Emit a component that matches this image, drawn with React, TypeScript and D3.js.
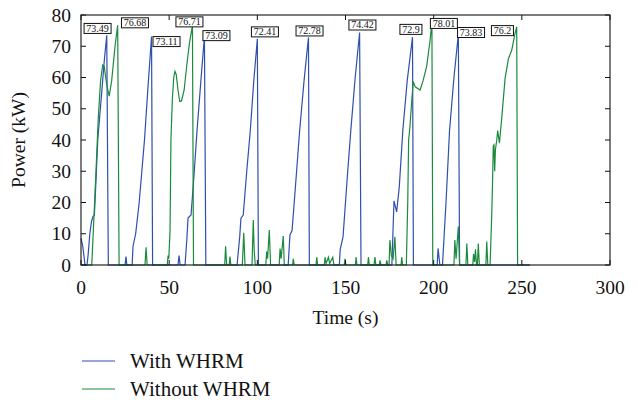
import React from 'react';
import * as d3 from 'd3';

// Power traces, [time (s), power (kW)]
const withWhrm: [number, number][] = [
  [0, 8.5], [1, 6], [2.3, 0], [3.4, 0], [4, 3], [5, 10], [6, 14], [6.8, 15.5], [7.6, 16], [8.5, 27],
  [9.5, 40], [12, 57], [13.3, 66], [14.6, 73.49], [15.5, 0],
  [25, 0], [25.5, 2.7], [26, 0], [29, 0], [29.5, 6], [31, 10], [33, 20], [34.5, 30], [36, 40],
  [38, 57], [40, 73.11], [40.6, 0],
  [55, 0], [55.6, 3], [56.2, 0], [59, 0], [60, 8], [60.7, 15], [62.4, 16], [64, 28], [65.8, 43],
  [68, 59], [70, 73.09], [70.8, 0],
  [88.5, 0], [90, 9], [90.7, 15], [92, 16], [94, 30], [96, 43], [98, 59], [100, 72.41], [100.6, 0],
  [117.5, 0], [118.5, 9.6], [119.7, 11], [122, 28], [124, 43], [126.5, 59], [129, 72.78], [129.5, 0],
  [146.5, 0], [147, 5], [148.6, 9], [151, 28], [153, 43], [155.5, 60], [158, 74.42], [158.8, 0],
  [176.3, 0], [177, 12], [177.5, 20.5], [179, 17], [180.5, 25], [182.5, 43], [185, 59], [188, 72.9], [188.5, 0],
  [202, 0], [202.5, 5.3], [203.5, 0], [205, 0], [207, 20], [209, 43], [211.5, 60], [214, 73.83], [214.7, 0],
  [254.5, 0],
];

const withoutWhrm: [number, number][] = [
  [0, 0], [6.1, 0], [7, 11], [8.5, 30], [9.8, 47], [11.1, 59], [12.3, 64], [13.2, 63.5], [14.5, 58],
  [16, 54], [17.4, 59], [19.3, 70], [20.8, 76.68], [21.6, 0],
  [36.3, 0], [36.9, 5.7], [37.5, 0], [48.9, 0], [49.4, 3], [49.8, 2], [50.5, 11], [51, 40], [51.8, 53],
  [52.6, 60], [53.3, 62], [54, 61], [55, 56], [56, 52.3], [57, 52.5], [58.5, 56], [60, 64], [61.5, 71],
  [63.2, 76.71], [63.8, 0],
  [81.5, 0], [82, 6], [82.6, 0], [84, 0], [84.5, 2.7], [85, 0], [91.5, 0], [92.3, 10.3], [93, 0],
  [97, 0], [97.7, 14.4], [98.2, 5], [98.8, 0], [104.8, 0], [105.3, 4.3], [105.8, 2], [106.8, 11.2],
  [107.5, 0], [112.4, 0], [112.9, 5.3], [113.5, 2], [114.7, 9.3], [115.3, 0], [120, 0], [120.4, 2],
  [120.9, 0], [133.3, 0], [133.7, 2.5], [134.2, 0], [138, 0], [138.4, 2.5], [139, 0.5], [140.3, 2.5],
  [141, 0.5], [142.8, 2.5], [143.4, 0], [149.3, 0], [149.7, 2], [150.2, 0], [155.6, 0], [156, 2.5],
  [156.5, 0], [162.6, 0], [163, 2.5], [163.5, 0], [166.2, 0], [166.7, 2.5], [167.2, 0], [169.2, 0],
  [169.6, 1.5], [170.1, 0], [173, 0], [173.4, 1.5], [174, 0], [174.7, 0], [175.2, 8], [176, 3], [177, 2],
  [178, 9], [178.7, 0], [181.5, 0], [181.9, 2.5], [182.4, 0],
  [184.5, 0], [185.3, 20], [185.8, 40], [186.5, 44], [187.5, 52], [188.4, 58.7], [189.5, 57], [192.3, 56],
  [194, 59], [196, 63.5], [198, 72], [199, 78.01], [199.5, 0],
  [211.5, 0], [212, 8], [212.7, 2], [214, 12.3], [214.7, 0], [218.3, 0], [218.8, 6.9], [219.4, 0],
  [222.2, 0], [222.6, 3.5], [223.2, 1], [223.7, 5], [224.3, 0], [224.8, 0], [225.3, 6.9], [225.9, 0],
  [229.6, 0], [230.1, 7.5], [230.7, 0],
  [232, 0], [232.9, 15.5], [233.5, 29], [233.8, 38], [234.2, 38.4], [234.6, 30], [235, 36.8], [235.8, 40],
  [236.3, 43], [237.3, 39], [238.6, 47], [240.5, 59.7], [242.4, 66], [244.3, 68.8], [246.1, 74],
  [247.1, 76.2], [247.6, 0], [254.6, 0],
];

// peak annotations: text and the box centre in data units
const peakLabels: { text: string; t: number; v: number }[] = [
  { text: '73.49', t: 9.4, v: 75.7 },
  { text: '76.68', t: 30.6, v: 77.5 },
  { text: '73.11', t: 48.5, v: 71.5 },
  { text: '76.71', t: 61.5, v: 77.8 },
  { text: '73.09', t: 76.8, v: 73.4 },
  { text: '72.41', t: 104.3, v: 74.6 },
  { text: '72.78', t: 129.6, v: 74.9 },
  { text: '74.42', t: 159.6, v: 76.8 },
  { text: '72.9', t: 187.1, v: 75.4 },
  { text: '78.01', t: 205.8, v: 77.3 },
  { text: '73.83', t: 221.2, v: 74.4 },
  { text: '76.2', t: 239, v: 75 },
];

const xTicks = [0, 50, 100, 150, 200, 250, 300];
const yTicks = [0, 10, 20, 30, 40, 50, 60, 70, 80];

const seriesNames = ['With WHRM', 'Without WHRM'];
const seriesColors = ['#2f4fac', '#1b8a3e'];

const W = 638;
const H = 400;
const margin = { top: 15, right: 28, bottom: 135, left: 81 };
const font = '"Liberation Serif", "Times New Roman", serif';

export default function App() {
  const x = d3.scaleLinear().domain([0, 300]).range([margin.left, W - margin.right]);
  const y = d3.scaleLinear().domain([0, 80]).range([H - margin.bottom, margin.top]);
  const line = d3
    .line<[number, number]>()
    .x((d) => x(d[0]))
    .y((d) => y(d[1]));

  const x0 = x(0), x1 = x(300), y0 = y(0), y1 = y(80);
  const tick = 5;

  return (
    <svg
      width={W}
      height={H}
      style={{ position: 'absolute', left: 0, top: 0, background: '#fff' }}
      fontFamily={font}
    >
      {/* data lines */}
      <path d={line(withWhrm) ?? ''} fill="none" stroke={seriesColors[0]} strokeWidth={1.2} />
      <path d={line(withoutWhrm) ?? ''} fill="none" stroke={seriesColors[1]} strokeWidth={1.2} />

      {/* frame with inward ticks on every side */}
      <rect x={x0} y={y1} width={x1 - x0} height={y0 - y1} fill="none" stroke="#111" strokeWidth={1.1} />
      {xTicks.map((t) => (
        <g key={'x' + t}>
          <line x1={x(t)} x2={x(t)} y1={y0} y2={y0 - tick} stroke="#111" />
          <line x1={x(t)} x2={x(t)} y1={y1} y2={y1 + tick} stroke="#111" />
          <text x={x(t)} y={y0 + 29} textAnchor="middle" fontSize={19.5} fill="#111">
            {t}
          </text>
        </g>
      ))}
      {yTicks.map((v) => (
        <g key={'y' + v}>
          <line x1={x0} x2={x0 + tick} y1={y(v)} y2={y(v)} stroke="#111" />
          <line x1={x1} x2={x1 - tick} y1={y(v)} y2={y(v)} stroke="#111" />
          <text x={x0 - 10} y={y(v) + 6.5} textAnchor="end" fontSize={19.5} fill="#111">
            {v}
          </text>
        </g>
      ))}

      {/* peak labels */}
      {peakLabels.map((p) => {
        const w = p.text.length * 5 + 2;
        return (
          <g key={p.text} transform={`translate(${x(p.t)},${y(p.v)})`}>
            <rect x={-w / 2} y={-5} width={w} height={10} fill="#fff" stroke="#111" strokeWidth={1} />
            <text x={0} y={3.4} textAnchor="middle" fontSize={10} fill="#111">
              {p.text}
            </text>
          </g>
        );
      })}

      {/* axis titles */}
      <text x={(x0 + x1) / 2} y={324} textAnchor="middle" fontSize={19.5} fill="#111">
        Time (s)
      </text>
      <text
        transform={`translate(25,${(y0 + y1) / 2}) rotate(-90)`}
        textAnchor="middle"
        fontSize={19.5}
        fill="#111"
      >
        Power (kW)
      </text>

      {/* legend */}
      {seriesNames.map((name, i) => (
        <g key={name} transform={`translate(82,${361 + i * 28})`}>
          <line x1={0} x2={33} y1={0} y2={0} stroke={seriesColors[i]} strokeWidth={1.2} />
          <text x={48} y={7} fontSize={21} fill="#111">
            {name}
          </text>
        </g>
      ))}
    </svg>
  );
}
